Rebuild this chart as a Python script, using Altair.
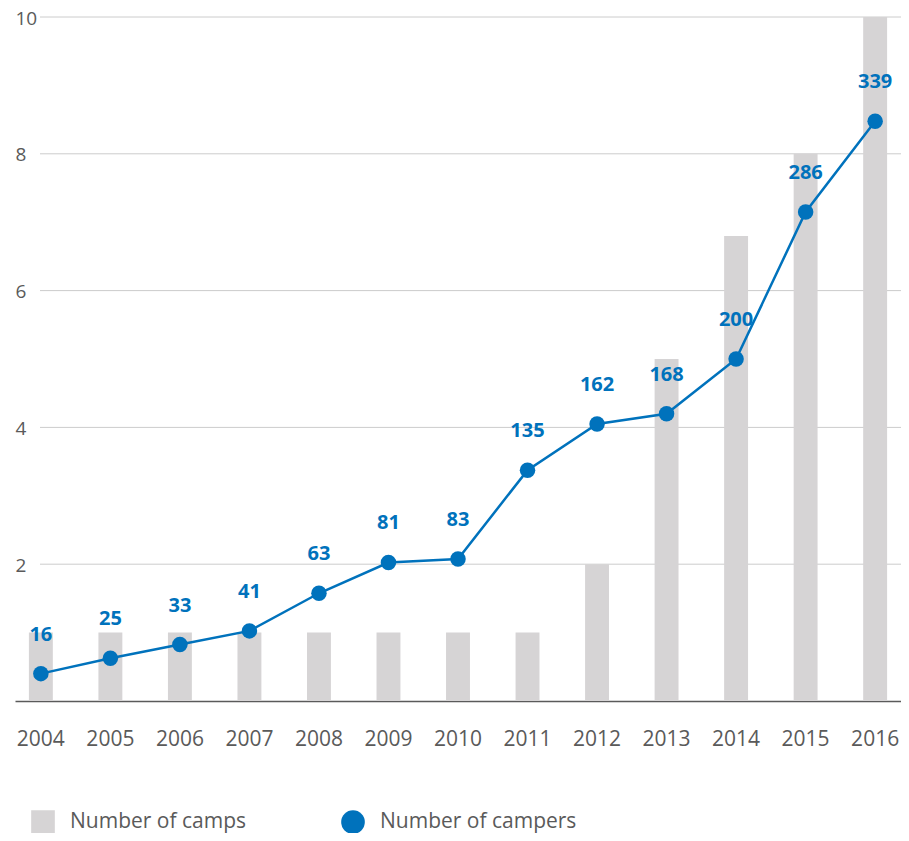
import altair as alt
import pandas as pd

years = ["2004", "2005", "2006", "2007", "2008", "2009", "2010",
         "2011", "2012", "2013", "2014", "2015", "2016"]
camps = [1, 1, 1, 1, 1, 1, 1, 1, 2, 5, 6.8, 8, 10]
campers = [16, 25, 33, 41, 63, 81, 83, 135, 162, 168, 200, 286, 339]
grid_values = [2, 4, 6, 8, 10]
series_names = ["Number of camps", "Number of campers"]

GREY = "#d6d4d5"
BLUE = "#0072bc"
TEXT = "#5a5a5a"
FONT = "Open Sans"

df = pd.DataFrame({"year": years, "camps": camps, "campers": campers,
                   "series": "Number of campers"})
grid_df = pd.DataFrame({"camps": grid_values})

x_axis = alt.Axis(title=None, labelAngle=0, ticks=False, domain=True,
                  domainColor=TEXT, domainWidth=1.5, labelFontSize=21,
                  labelColor=TEXT, labelPadding=27, labelFont=FONT, grid=False)
x_scale = alt.Scale(paddingInner=0.656, paddingOuter=0.2)
x_enc = alt.X("year:O", scale=x_scale, axis=x_axis)

y_left = alt.Scale(domain=[0, 10])
y_axis = alt.Axis(orient="left", values=grid_values, grid=False, domain=False, ticks=False,
                  labelAlign="left", labelPadding=0, labelFontSize=19,
                  labelColor=TEXT, labelBaseline="middle", labelFont=FONT,
                  labelOffset=1, title=None, domainOpacity=0)
y_right = alt.Scale(domain=[0, 400])

grid = alt.Chart(grid_df).mark_rule(color="#cccccc", strokeWidth=1).encode(
    y=alt.Y("camps:Q", scale=y_left, axis=y_axis),
    x=alt.value(25),
    x2=alt.value(886),
)

bars = alt.Chart(df).mark_bar(color=GREY).encode(
    x=x_enc,
    y=alt.Y("camps:Q", scale=y_left, axis=y_axis),
)

line = alt.Chart(df).mark_line(color=BLUE, strokeWidth=2.5).encode(
    x=x_enc,
    y=alt.Y("campers:Q", scale=y_right, axis=None),
)

legend = alt.Legend(title=None, orient="none", legendX=16, legendY=793,
                    direction="horizontal", symbolSize=560, labelFontSize=21,
                    labelColor=TEXT, labelFont=FONT, labelOffset=15, labelLimit=300,
                    columnPadding=95, symbolStrokeWidth=0, padding=0)

points = alt.Chart(df).mark_point(filled=True, size=240, opacity=1).encode(
    x=x_enc,
    y=alt.Y("campers:Q", scale=y_right, axis=None),
    color=alt.Color("series:N", scale=alt.Scale(domain=series_names, range=[GREY, BLUE]),
                    legend=legend),
    shape=alt.Shape("series:N", scale=alt.Scale(domain=series_names, range=["square", "circle"]),
                    legend=legend),
)

labels = alt.Chart(df).mark_text(dy=-39, fontWeight="bold", fontSize=20, color=BLUE,
                                 font=FONT, baseline="middle").encode(
    x=x_enc,
    y=alt.Y("campers:Q", scale=y_right, axis=None),
    text=alt.Text("campers:Q"),
)

left = alt.layer(grid, bars)
right = alt.layer(line, points, labels)

chart = alt.layer(left, right).resolve_scale(y="independent").properties(
    width=886, height=684,
    autosize=alt.AutoSizeParams(type="none"),
    padding={"left": 7, "top": 9, "right": 0, "bottom": 132},
    background="white",
).configure_view(stroke="transparent", strokeWidth=0, strokeOpacity=0).configure_axisY(
    domain=False, ticks=False, grid=False, domainOpacity=0)

chart.save("out.html", embed_options={"renderer": "svg", "actions": False})
